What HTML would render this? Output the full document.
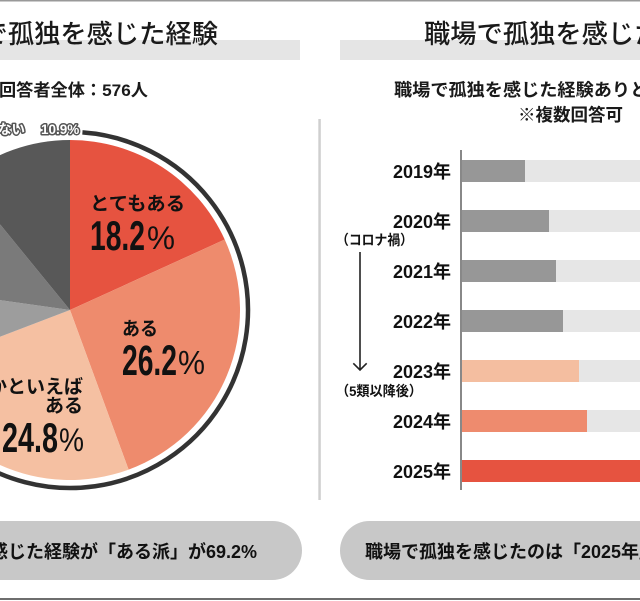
<!DOCTYPE html>
<html><head><meta charset="utf-8"><style>
html,body{margin:0;padding:0;background:#fff;}
svg{display:block;}
text{font-family:"Liberation Sans","Noto Sans CJK JP",sans-serif;}
</style></head><body>
<svg width="640" height="601" viewBox="0 0 640 601" xmlns="http://www.w3.org/2000/svg">
<rect width="640" height="601" fill="#fff"/>
<rect x="0" y="0" width="640" height="1.5" fill="#999"/>
<rect x="0" y="598" width="640" height="2" fill="#6e6e6e"/>

<!-- title bands -->
<rect x="0" y="40" width="300" height="20" fill="#e5e5e5"/>
<rect x="340" y="40" width="300" height="20" fill="#e5e5e5"/>
<text x="-71" y="43" font-size="26.3" fill="#1a1a1a" font-weight="500" textLength="289" lengthAdjust="spacingAndGlyphs">職場で孤独を感じた経験</text>
<text x="424" y="43" font-size="26.3" fill="#1a1a1a" font-weight="500" textLength="289" lengthAdjust="spacingAndGlyphs">職場で孤独を感じた経験</text>

<!-- subtitles -->
<text x="-1" y="96" font-size="17" fill="#1a1a1a" font-weight="700" textLength="149" lengthAdjust="spacingAndGlyphs">回答者全体：576人</text>
<text x="394" y="96" font-size="17.5" fill="#1a1a1a" font-weight="700" textLength="345" lengthAdjust="spacingAndGlyphs">職場で孤独を感じた経験ありと回答した人</text>
<text x="518" y="121" font-size="17.5" fill="#1a1a1a" font-weight="700" textLength="105" lengthAdjust="spacingAndGlyphs">※複数回答可</text>

<!-- pie -->
<path d="M70,310 L70,140 A170,170 0 0 1 224.72,239.55 Z" fill="#e65340"/>
<path d="M70,310 L224.72,239.55 A170,170 0 0 1 128.60,469.60 Z" fill="#ee8b6d"/>
<path d="M70,310 L128.60,469.60 A170,170 0 0 1 -88.85,370.59 Z" fill="#f5c0a2"/>
<path d="M70,310 L-88.85,370.59 A170,170 0 0 1 -98.35,286.34 Z" fill="#9d9d9d"/>
<path d="M70,310 L-98.35,286.34 A170,170 0 0 1 -37.54,178.34 Z" fill="#7a7a7a"/>
<path d="M70,310 L-37.54,178.34 A170,170 0 0 1 70,140 Z" fill="#585858"/>
<path d="M82.42,132.43 A178,178 0 1 1 -97.27,249.12" fill="none" stroke="#333" stroke-width="4.5"/>

<!-- small outlined label -->
<g font-size="13.5" font-weight="700" fill="#fff" stroke="#555" stroke-width="3" paint-order="stroke" stroke-linejoin="round">
<text x="25" y="134" text-anchor="end">全くない</text>
<text x="41" y="134">10.9%</text>
</g>

<!-- pie labels -->
<g fill="#111">
<text x="90" y="210" font-size="19" font-weight="700" textLength="95" lengthAdjust="spacingAndGlyphs">とてもある</text>
<text x="90" y="250" font-size="42" font-weight="700" textLength="55" lengthAdjust="spacingAndGlyphs">18.2</text>
<text x="147" y="249" font-size="32" textLength="28" lengthAdjust="spacingAndGlyphs">%</text>

<text x="122" y="335" font-size="19" font-weight="700" textLength="36" lengthAdjust="spacingAndGlyphs">ある</text>
<text x="122" y="375" font-size="43" font-weight="700" textLength="55" lengthAdjust="spacingAndGlyphs">26.2</text>
<text x="178" y="374" font-size="33" textLength="27" lengthAdjust="spacingAndGlyphs">%</text>

<text x="83" y="393" font-size="19" font-weight="700" text-anchor="end">どちらかといえば</text>
<text x="83" y="412" font-size="19" font-weight="700" text-anchor="end">ある</text>
<text x="2" y="452" font-size="42" font-weight="700" textLength="56" lengthAdjust="spacingAndGlyphs">24.8</text>
<text x="59" y="451" font-size="32" textLength="25" lengthAdjust="spacingAndGlyphs">%</text>
</g>

<!-- separator -->
<rect x="318.3" y="119" width="2.5" height="381" fill="#cfcfcf"/>

<!-- bars background -->
<g fill="#e6e6e6">
<rect x="462" y="160" width="178" height="22"/>
<rect x="462" y="210" width="178" height="22"/>
<rect x="462" y="260" width="178" height="22"/>
<rect x="462" y="310" width="178" height="22"/>
<rect x="462" y="360" width="178" height="22"/>
<rect x="462" y="410" width="178" height="22"/>
<rect x="462" y="460" width="178" height="22"/>
</g>
<rect x="462" y="160" width="63" height="22" fill="#979797"/>
<rect x="462" y="210" width="87" height="22" fill="#979797"/>
<rect x="462" y="260" width="94" height="22" fill="#979797"/>
<rect x="462" y="310" width="101" height="22" fill="#979797"/>
<rect x="462" y="360" width="117" height="22" fill="#f4bea0"/>
<rect x="462" y="410" width="125" height="22" fill="#ee8b6e"/>
<rect x="462" y="460" width="178" height="22" fill="#e65340"/>
<rect x="460" y="150" width="2" height="340" fill="#888"/>

<g font-size="18" font-weight="700" fill="#111" text-anchor="end">
<text x="451" y="178">2019年</text>
<text x="451" y="228">2020年</text>
<text x="451" y="278">2021年</text>
<text x="451" y="328">2022年</text>
<text x="451" y="378">2023年</text>
<text x="451" y="428">2024年</text>
<text x="451" y="478">2025年</text>
</g>

<g font-size="14" font-weight="700" fill="#111">
<text x="336" y="245" textLength="77" lengthAdjust="spacingAndGlyphs">（コロナ禍）</text>
<text x="336" y="396" textLength="86" lengthAdjust="spacingAndGlyphs">（5類以降後）</text>
</g>
<line x1="360" y1="252" x2="360" y2="370" stroke="#222" stroke-width="1.6"/>
<polyline points="353.3,363.3 360,370 366.7,363.3" fill="none" stroke="#222" stroke-width="1.6"/>

<!-- bottom pills -->
<rect x="-40" y="521" width="342" height="59" rx="29.5" fill="#c8c8c8"/>
<rect x="340" y="521" width="340" height="59" rx="29.5" fill="#c8c8c8"/>
<text x="257" y="558" font-size="18" font-weight="700" fill="#111" text-anchor="end">職場で孤独を感じた経験が「ある派」が69.2%</text>
<text x="365" y="558" font-size="18" font-weight="700" fill="#111">職場で孤独を感じたのは「2025年」が最多</text>
</svg>
</body></html>
